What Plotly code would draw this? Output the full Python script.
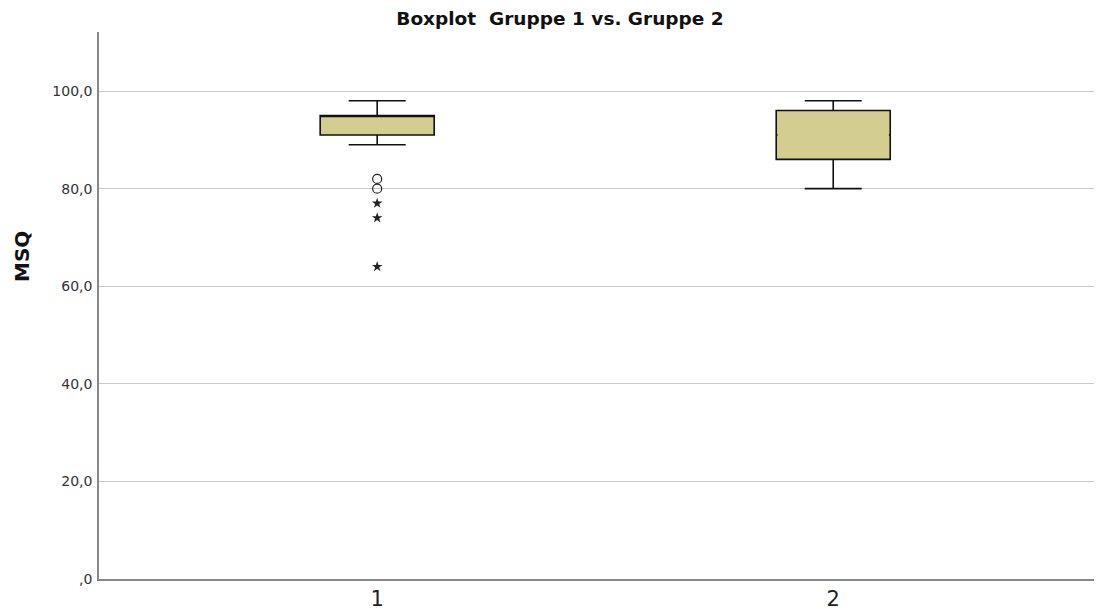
import plotly.graph_objects as go

groups = [1, 2]
group_labels = ["1", "2"]
q1 = [91, 86]
median = [95, 91]
q3 = [95, 96]
lower_whisker = [89, 80]
upper_whisker = [98, 98]

# outliers of group 1
circle_outliers = [82, 80]
star_outliers = [77, 74, 64]

y_ticks = [0, 20, 40, 60, 80, 100]
y_tick_labels = [",0", "20,0", "40,0", "60,0", "80,0", "100,0"]

fill = "#D3CE8F"

fig = go.Figure()
fig.add_trace(go.Box(
    x=groups, q1=q1, median=median, q3=q3,
    lowerfence=lower_whisker, upperfence=upper_whisker,
    fillcolor=fill, line=dict(color="#111111", width=1.6),
    width=0.25, whiskerwidth=0.5, boxpoints=False, hoverinfo="skip",
    showlegend=False,
))
# SPSS draws the median nearly invisibly; hide plotly's median line where it lies inside the box
for g, a, m, b in zip(groups, q1, median, q3):
    if a < m < b:
        fig.add_trace(go.Scatter(
            x=[g - 0.122, g + 0.122], y=[m, m], mode="lines",
            line=dict(color=fill, width=3.5), showlegend=False, hoverinfo="skip",
        ))
fig.add_trace(go.Scatter(
    x=[groups[0]] * len(circle_outliers), y=circle_outliers, mode="markers",
    marker=dict(symbol="circle-open", size=9, color="#222222", line=dict(width=1.2)),
    showlegend=False,
))
fig.add_trace(go.Scatter(
    x=[groups[0]] * len(star_outliers), y=star_outliers, mode="markers",
    marker=dict(symbol="star", size=8, color="#222222"),
    showlegend=False,
))

W, H = 1094, 602
fig.update_layout(
    width=W, height=H,
    margin=dict(l=91, r=2, t=24, b=31, autoexpand=False),
    paper_bgcolor="white", plot_bgcolor="white",
    title=dict(text="<b>Boxplot  Gruppe 1 vs. Gruppe 2</b>", x=552 / W, xanchor="center",
               y=1 - 11 / H, yanchor="middle",
               font=dict(family="DejaVu Sans", size=18.5, color="#111111")),
    xaxis=dict(range=[0.39, 2.585], tickvals=groups, ticktext=group_labels,
               showgrid=False, zeroline=False, showline=True, linecolor="#888888",
               linewidth=2, ticks="", automargin=False,
               tickfont=dict(family="DejaVu Sans", size=21, color="#222222")),
    yaxis=dict(range=[0, 112.1], tickvals=y_ticks, ticktext=y_tick_labels,
               showgrid=True, gridcolor="#C8C8C8", gridwidth=1.2, zeroline=False,
               showline=True, linecolor="#888888", linewidth=1.5, ticks="",
               ticklabelstandoff=2, automargin=False,
               tickfont=dict(family="DejaVu Sans", size=14, color="#333333")),
    annotations=[dict(text="<b>MSQ</b>", textangle=-90, xref="paper", yref="y",
                      x=0, y=66, xanchor="center", yanchor="middle", xshift=-77,
                      showarrow=False,
                      font=dict(family="DejaVu Sans", size=20, color="#111111"))],
)
fig.write_html("out.html")
